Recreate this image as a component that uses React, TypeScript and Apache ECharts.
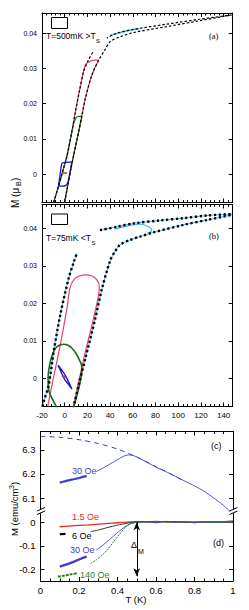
import React, { useEffect, useRef } from 'react';
import * as echarts from 'echarts';

// ---------- Panel (a): T = 500 mK ----------
const aUpperX = [147, 119.2, 89.9, 60.4, 45.8, 37];
const aUpperY = [0.0452, 0.044, 0.0426, 0.0411, 0.04, 0.0386];
const aLeftX = [-9.7, -5.3, -2.0, 2.0, 6.0, 9.4, 13.0, 16.7, 21, 25.5];
const aLeftY = [-0.008, -0.0033, 0.0005, 0.0052, 0.0115, 0.0177, 0.0237, 0.0291, 0.0325, 0.035];
const aRightX = [0, 4.9, 8.5, 12.3, 15.2, 18.2, 24, 30, 35.8, 39.9, 48.7, 60.4, 89.9, 119.2, 147];
const aRightY = [-0.008, 0.0007, 0.0063, 0.012, 0.0167, 0.0215, 0.0282, 0.0324, 0.0355, 0.0376, 0.039, 0.0402, 0.0419, 0.0436, 0.0452];
const aPinkX = [-9.7, -5.3, -2.0, 2.0, 6.0, 9.4, 13.0, 15.5, 18.2, 22.6, 27, 30, 24, 18.2, 15.2, 12.3, 8.5, 4.9, 0];
const aPinkY = [-0.008, -0.0033, 0.0005, 0.0052, 0.0115, 0.0177, 0.0237, 0.0275, 0.031, 0.0321, 0.0324, 0.0324, 0.0282, 0.0215, 0.0167, 0.012, 0.0063, 0.0007, -0.008];
const aGreenX = [-9.7, -5.3, -2.0, 2.0, 6.0, 8.0, 10, 12.3, 15.2, 14.8, 12.3, 8.5, 4.9, 0];
const aGreenY = [-0.008, -0.0033, 0.0005, 0.0052, 0.0115, 0.0145, 0.016, 0.0164, 0.0164, 0.016, 0.012, 0.0063, 0.0007, -0.008];
const aBlueX = [-5.5, -4, -2.4, 1, 4, 6.2, 5.5, 4.9, 2.9, 1.1, -2, -5.5];
const aBlueY = [-0.0034, 0.0, 0.0031, 0.0033, 0.0034, 0.0034, 0.002, 0.0007, -0.0022, -0.0032, -0.0034, -0.0034];
const aRedX = [-2.4, 2];
const aRedY = [0.0003, 0.0003];
const aCyanX = [40, 50, 60, 66];
const aCyanY = [0.0394, 0.0403, 0.041, 0.0413];

// ---------- Panel (b): T = 75 mK ----------
const bLeftX = [-19.5, -18.5, -14.1, -9.7, -3.9, 3.5, 8, 10.8];
const bLeftY = [-0.0075, -0.0062, -0.0018, 0.0071, 0.0169, 0.0267, 0.031, 0.0334];
const bRightX = [8.5, 12.3, 18.2, 27, 32.9, 40.2, 44.3, 48.7, 57.5, 66.3, 78, 104.5, 125, 147.5];
const bRightY = [-0.0067, -0.0018, 0.0053, 0.016, 0.024, 0.0315, 0.0338, 0.0356, 0.0369, 0.0378, 0.0389, 0.0409, 0.0422, 0.0436];
const bUpperX = [31, 45.8, 60.4, 84, 104.5, 125, 147.5];
const bUpperY = [0.0395, 0.0404, 0.0413, 0.0421, 0.0427, 0.0434, 0.0438];
const bPinkX = [-15, -11.2, -3.9, 2, 4.9, 9.3, 14, 18.2, 24, 28.5, 30.5, 29.3, 24, 18.2, 12.3, 9.3, 7.5];
const bPinkY = [-0.0075, -0.0018, 0.0089, 0.0187, 0.0244, 0.0267, 0.0274, 0.0276, 0.0273, 0.0262, 0.0244, 0.0213, 0.0142, 0.0071, -0.0009, -0.0053, -0.0078];
const bGreenX = [-5.5, -9.7, -14.1, -14.7, -12.7, -8.3, -4, -0.9, 3, 6.4, 10, 12.3, 14.5, 15.2, 13.7, 10.8, 7];
const bGreenY = [-0.0085, -0.0062, -0.0031, 0, 0.0044, 0.008, 0.0089, 0.0091, 0.0088, 0.008, 0.0066, 0.0053, 0.0038, 0.0027, -0.0009, -0.0045, -0.0085];
const bBlueX = [-5.9, -3, 0.5, 3.5, 6.4, 3, -0.5, -3.5, -5.9];
const bBlueY = [0.0035, 0.0024, 0.0008, -0.001, -0.0029, -0.0015, -0.0001, 0.0019, 0.0035];
const bRedX = [-2, 0.5];
const bRedY = [0.0007, 0.0001];
const bCyanX = [44, 55, 66, 72, 76.5, 75.5, 73];
const bCyanY = [0.0398, 0.0406, 0.0411, 0.0407, 0.0397, 0.039, 0.0387];

// ---------- Panel (c) ----------
const cFitX = [0, 0.1, 0.2, 0.3, 0.4, 0.5, 0.6, 0.7, 0.75];
const cFitY = [6.355, 6.352, 6.342, 6.326, 6.303, 6.27, 6.23, 6.19, 6.168];
const c30aX = [0.1, 0.13, 0.16, 0.2, 0.24];
const c30aY = [6.164, 6.17, 6.176, 6.183, 6.192];
const c30bX = [0.29, 0.32, 0.35, 0.38, 0.41, 0.44, 0.46, 0.49, 0.52, 0.56, 0.6, 0.65, 0.7, 0.75, 0.8, 0.85, 0.9, 0.95, 1.0];
const c30bY = [6.21, 6.222, 6.236, 6.25, 6.264, 6.276, 6.279, 6.274, 6.262, 6.245, 6.228, 6.21, 6.19, 6.17, 6.15, 6.128, 6.1, 6.07, 6.032];

// ---------- Panel (d) ----------
const d15X = [0.1, 0.15, 0.2, 0.25, 0.3, 0.35, 0.4, 0.45, 0.5, 0.55, 0.6, 0.65, 0.7, 0.75, 0.8, 0.85, 0.9, 0.95, 1.0];
const d15Y = [-0.019, -0.016, -0.013, -0.011, -0.008, -0.005, -0.002, 0.001, 0.003, 0.002, 0.004, 0.001, 0.003, 0.0, 0.002, 0.001, 0.003, 0.0, 0.002];
const d6aX = [0.1, 0.13];
const d6aY = [-0.051, -0.049];
const d6bX = [0.26, 0.3, 0.35, 0.4, 0.45, 0.48, 0.55, 0.6, 0.65, 0.7, 0.75, 0.8, 0.85, 0.9, 0.95, 1.0];
const d6bY = [-0.04, -0.033, -0.022, -0.012, -0.004, 0.0, 0.002, 0.0, 0.003, 0.001, 0.002, -0.001, 0.002, 0.0, 0.003, 0.006];
const d30aX = [0.1, 0.14, 0.18, 0.22, 0.24];
const d30aY = [-0.189, -0.178, -0.165, -0.152, -0.146];
const d30bX = [0.29, 0.32, 0.35, 0.38, 0.41, 0.44, 0.47, 0.5, 0.55, 0.6, 0.65, 0.7, 0.75, 0.8, 0.85, 0.9, 0.95, 1.0];
const d30bY = [-0.118, -0.1, -0.08, -0.058, -0.037, -0.018, -0.006, 0.0, 0.003, -0.002, 0.004, 0.0, 0.003, -0.002, 0.002, 0.001, -0.001, 0.002];
const d140aX = [0.09, 0.12, 0.15, 0.19];
const d140aY = [-0.231, -0.228, -0.223, -0.217];
const d140bX = [0.26, 0.29, 0.32, 0.35, 0.38, 0.41, 0.44, 0.47, 0.5, 0.6, 0.7, 0.8, 0.9, 1.0];
const d140bY = [-0.175, -0.16, -0.14, -0.115, -0.082, -0.052, -0.022, -0.004, 0.0, 0.002, 0.0, 0.002, 0.0, 0.001];
const deltaX = [0.5, 0.5];
const deltaY = [0, -0.23];

// tick values
const abTicks = [0, 0.01, 0.02, 0.03, 0.04];
const cTicks = [6.1, 6.2, 6.3];
const dTicks = [-0.2, -0.1, 0];

const FONT = 'Liberation Sans';
const pts = (xs: number[], ys: number[]) => xs.map((x, i) => [x, ys[i]]);

const PINK = '#e8416f';
const GREEN = '#1f6a22';
const BLUE = '#1a1ad2';
const CYAN = '#4ab2e6';
const RED = '#e42a2a';
const B30 = '#3d3dd4';
const G140 = '#2e7d32';

function line(xs: number[], ys: number[], xi: number, yi: number, color: string, width: number, extra: any = {}, smooth: any = 0.3) {
  return {
    type: 'line',
    data: pts(xs, ys),
    xAxisIndex: xi,
    yAxisIndex: yi,
    symbol: 'none',
    smooth,
    silent: true,
    clip: true,
    lineStyle: { color, width, cap: 'butt', ...extra },
  };
}

const axisLineStyle = { show: true, onZero: false, lineStyle: { color: '#000', width: 1 } };

function xAx(grid: number, pos: string, min: number, max: number, interval: number, split: number, showLabel: boolean, fontSize: number, margin: number, showLine = true) {
  return {
    type: 'value',
    gridIndex: grid,
    position: pos,
    min,
    max,
    interval,
    axisLine: { ...axisLineStyle, show: showLine },
    axisTick: { show: showLine, inside: true, length: 4, lineStyle: { color: '#000' } },
    minorTick: { show: showLine, splitNumber: split, length: 2.5, lineStyle: { color: '#000' } },
    splitLine: { show: false },
    axisLabel: {
      show: showLabel,
      showMaxLabel: max === 1,
      fontSize,
      margin,
      color: '#000',
      fontFamily: FONT,
    },
  };
}

function yAx(grid: number, pos: string, min: number, max: number, ticks: number[], showLabel: boolean, fontSize: number, fmt: (v: number) => string) {
  return {
    type: 'value',
    gridIndex: grid,
    position: pos,
    min,
    max,
    axisLine: axisLineStyle,
    axisTick: { show: true, inside: true, length: 4, customValues: ticks, lineStyle: { color: '#000' } },
    splitLine: { show: false },
    axisLabel: {
      show: showLabel,
      customValues: ticks,
      fontSize,
      margin: 5,
      color: '#000',
      fontFamily: FONT,
      formatter: fmt,
    },
  };
}

const fmtAB = (v: number) => (Math.abs(v) < 1e-9 ? '0' : v.toFixed(2));
const fmt1 = (v: number) => (Math.abs(v) < 1e-9 ? '0' : v.toFixed(1));

function txt(text: string, x: number, y: number, size: number, color = '#000', align = 'left', family = FONT, rotation = 0) {
  return {
    type: 'text',
    x,
    y,
    rotation,
    z: 100,
    style: { text, fontSize: size, fill: color, fontFamily: family, align, verticalAlign: 'middle' },
  };
}

export default function App() {
  const ref = useRef<HTMLDivElement>(null);
  useEffect(() => {
    const chart = echarts.init(ref.current!, null, { renderer: 'svg' });
    const blackA = { type: [2.5, 2], color: '#000' };
    const blackB = { type: [2.2, 2.6] };
    const series: any[] = [
      // panel a
      line(aPinkX, aPinkY, 0, 0, PINK, 1.2),
      line(aGreenX, aGreenY, 0, 0, GREEN, 1.2),
      line(aBlueX, aBlueY, 0, 0, BLUE, 1.3, {}, 0.2),
      line(aRedX, aRedY, 0, 0, RED, 1.5, {}, false),
      line(aCyanX, aCyanY, 0, 0, CYAN, 1.5),
      line(aUpperX, aUpperY, 0, 0, '#000', 1.2, blackA),
      line(aLeftX, aLeftY, 0, 0, '#000', 1.2, blackA),
      line(aRightX, aRightY, 0, 0, '#000', 1.2, blackA),
      // panel b
      line(bLeftX, bLeftY, 2, 2, CYAN, 1),
      line(bRightX, bRightY, 2, 2, CYAN, 1),
      line(bUpperX, bUpperY, 2, 2, CYAN, 1),
      line(bPinkX, bPinkY, 2, 2, PINK, 1.2),
      line(bGreenX, bGreenY, 2, 2, GREEN, 1.6, {}, 0.4),
      line(bBlueX, bBlueY, 2, 2, BLUE, 1.4, {}, 0.3),
      line(bRedX, bRedY, 2, 2, RED, 2, {}, false),
      line(bCyanX, bCyanY, 2, 2, CYAN, 1.2),
      line(bLeftX, bLeftY, 2, 2, '#000', 2.4, blackB),
      line(bRightX, bRightY, 2, 2, '#000', 2.4, blackB),
      line(bUpperX, bUpperY, 2, 2, '#000', 2.4, blackB),
      // panel c
      line(cFitX, cFitY, 4, 4, B30, 1, { type: [5, 4] }),
      line(c30aX, c30aY, 4, 4, B30, 2.2),
      line(c30bX, c30bY, 4, 4, B30, 0.9, {}, 0.2),
      // panel d
      line(d15X, d15Y, 5, 6, RED, 1.3, {}, 0.2),
      line(d6aX, d6aY, 5, 6, '#000', 2.2),
      line(d6bX, d6bY, 5, 6, '#333', 1, {}, 0.2),
      line(d30aX, d30aY, 5, 6, B30, 2.4),
      line(d30bX, d30bY, 5, 6, B30, 0.9, {}, 0.2),
      line(d140aX, d140aY, 5, 6, G140, 2, { type: [3, 1] }),
      line(d140bX, d140bY, 5, 6, G140, 1, { type: [2, 1] }, 0.2),
      {
        type: 'line',
        data: [],
        xAxisIndex: 5,
        yAxisIndex: 6,
        silent: true,
        markLine: {
          silent: true,
          symbol: ['arrow', 'arrow'],
          symbolSize: [5, 8],
          label: { show: false },
          lineStyle: { color: '#000', width: 1, type: 'solid' },
          data: [[{ coord: [deltaX[0], deltaY[0]] }, { coord: [deltaX[1], deltaY[1]] }]],
        },
      },
    ];

    const option: any = {
      animation: false,
      textStyle: { fontFamily: FONT },
      grid: [
        { left: 42, top: 13, width: 190.7, height: 189.5 },
        { left: 42, top: 204.5, width: 190.7, height: 202 },
        { left: 40.5, top: 431.5, width: 192.5, height: 80 },
        { left: 40.5, top: 511.5, width: 192.5, height: 69.5 },
      ],
      xAxis: [
        xAx(0, 'bottom', -20, 148, 20, 5, false, 8, 5),
        xAx(0, 'top', -20, 148, 20, 5, false, 8, 5),
        xAx(1, 'bottom', -20, 148, 20, 5, true, 8, 5),
        xAx(1, 'top', -20, 148, 20, 5, false, 8, 5),
        xAx(2, 'top', 0, 1, 0.2, 4, false, 9, 4),
        xAx(3, 'bottom', 0, 1, 0.2, 4, true, 9.5, 4),
      ],
      yAxis: [
        yAx(0, 'left', -0.00807, 0.04577, abTicks, true, 7, fmtAB),
        yAx(0, 'right', -0.00807, 0.04577, abTicks, false, 7, fmtAB),
        yAx(1, 'left', -0.00752, 0.04635, abTicks, true, 7, fmtAB),
        yAx(1, 'right', -0.00752, 0.04635, abTicks, false, 7, fmtAB),
        yAx(2, 'left', 6.044, 6.376, cTicks, true, 9.5, fmt1),
        yAx(2, 'right', 6.044, 6.376, cTicks, false, 9.5, fmt1),
        yAx(3, 'left', -0.25, 0.046, dTicks, true, 9.5, fmt1),
        yAx(3, 'right', -0.25, 0.046, dTicks, false, 9.5, fmt1),
      ],
      series,
      graphic: [
        // legend boxes
        { type: 'rect', z: 100, shape: { x: 51.5, y: 17.5, width: 16, height: 11 }, style: { fill: 'none', stroke: '#000', lineWidth: 1 } },
        { type: 'rect', z: 100, shape: { x: 51.5, y: 214, width: 16, height: 10.5 }, style: { fill: 'none', stroke: '#000', lineWidth: 1 } },
        txt('T=500mK >T', 46, 36, 8.5),
        txt('S', 96, 40.5, 6),
        txt('(a)', 209, 36, 8.5, '#000', 'left', 'Liberation Serif'),
        txt('T=75mK <T', 46, 238, 8.5),
        txt('S', 91.5, 242.5, 6),
        txt('(b)', 209, 236, 8.5, '#000', 'left', 'Liberation Serif'),
        txt('(c)', 211, 446, 9),
        txt('(d)', 213, 543, 9),
        txt('30 Oe', 72, 471, 9, B30),
        txt('1.5 Oe', 72, 517, 9, RED),
        txt('6 Oe', 72, 536, 9, '#000'),
        txt('30 Oe', 70, 550, 9, B30),
        txt('140 Oe', 80, 574.5, 9, G140),
        txt('Δ', 137, 545, 9, '#000', 'right'),
        txt('M', 141, 551, 7, '#000', 'center'),
        txt('T (K)', 136, 599, 9.5, '#000', 'center'),
        // y axis names (rotated)
        txt('M (μ', 15, 208, 10, '#000', 'left', FONT, Math.PI / 2),
        txt('B', 18.5, 186, 7, '#000', 'left', FONT, Math.PI / 2),
        txt(')', 15, 181, 10, '#000', 'left', FONT, Math.PI / 2),
        txt('M (emu/cm', 14, 536, 9.5, '#000', 'left', FONT, Math.PI / 2),
        txt('3', 11, 489, 7, '#000', 'left', FONT, Math.PI / 2),
        txt(')', 14, 485, 9.5, '#000', 'left', FONT, Math.PI / 2),
        // axis break marks
        { type: 'rect', z: 100, shape: { x: 38, y: 509.5, width: 6, height: 3.5 }, style: { fill: '#fff' } },
        { type: 'line', z: 101, shape: { x1: 37, y1: 511, x2: 45, y2: 507.5 }, style: { stroke: '#000', lineWidth: 1 } },
        { type: 'line', z: 101, shape: { x1: 37, y1: 514.5, x2: 45, y2: 511 }, style: { stroke: '#000', lineWidth: 1 } },
        { type: 'rect', z: 100, shape: { x: 230.5, y: 509.5, width: 6, height: 3.5 }, style: { fill: '#fff' } },
        { type: 'line', z: 101, shape: { x1: 229.5, y1: 511, x2: 237.5, y2: 507.5 }, style: { stroke: '#000', lineWidth: 1 } },
        { type: 'line', z: 101, shape: { x1: 229.5, y1: 514.5, x2: 237.5, y2: 511 }, style: { stroke: '#000', lineWidth: 1 } },
      ],
    };
    chart.setOption(option);
    return () => chart.dispose();
  }, []);
  return <div ref={ref} style={{ position: 'fixed', left: 0, top: 0, width: 249, height: 610, background: '#fff' }} />;
}
